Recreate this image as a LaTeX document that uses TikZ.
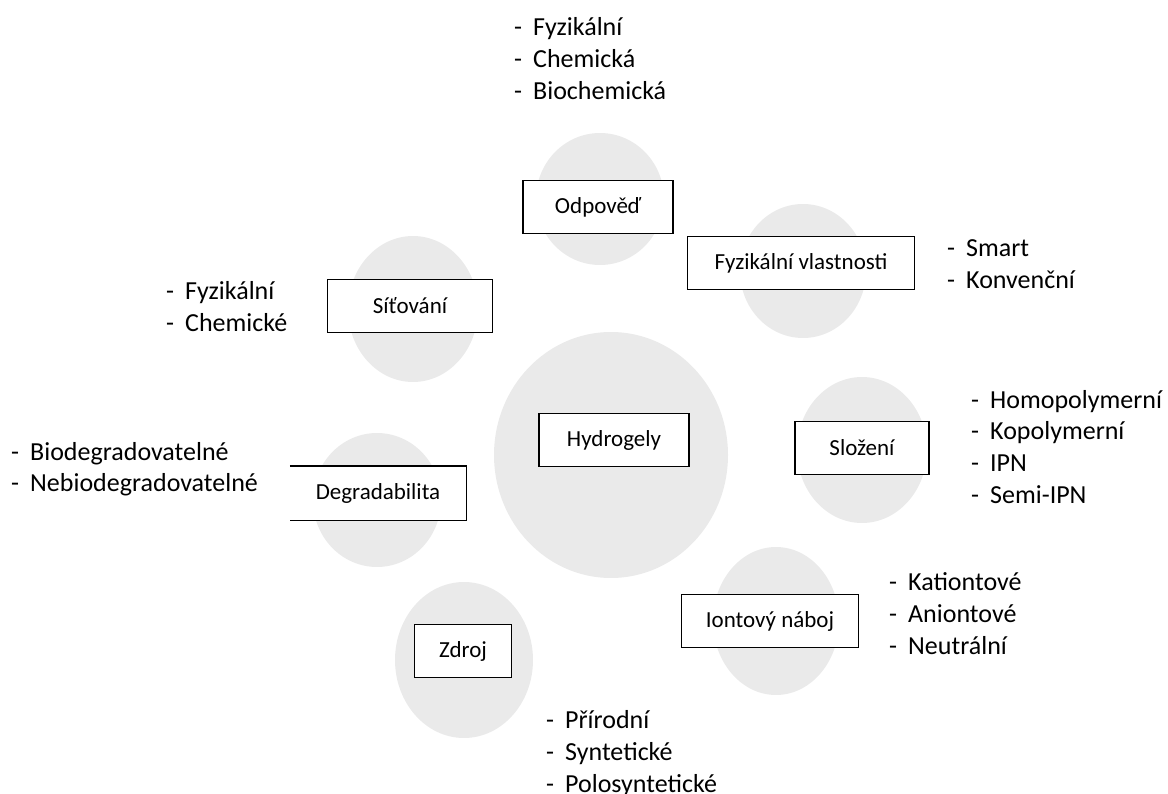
\documentclass[tikz,border=0pt]{standalone}
\usepackage{fontspec}
\setmainfont{Carlito}
\usepackage{array}
\definecolor{kruhseda}{RGB}{234,234,234}
\newcommand{\seznamtab}[1]{\begin{tabular}[t]{@{}p{19pt}@{}l@{}}#1\end{tabular}}

\begin{document}
\begin{tikzpicture}
[x=1pt,y=-1pt,
kruh/.style = {fill = kruhseda},
pojem/.style = {draw, line width = 1.2pt, fill = white, font = \fontsize{23}{27}\selectfont, minimum height = 53pt, inner sep = 0pt},
seznam/.style = {anchor = base west, inner sep = 0pt, font = \fontsize{26}{32}\selectfont},]

\useasboundingbox (0,0) rectangle (1168,794);

% sede kruhy
\fill [kruh] (611,455) ellipse (117 and 123);
\fill [kruh] (600,199) ellipse (64 and 66);
\fill [kruh] (803,271) ellipse (63 and 67);
\fill [kruh] (413,309) ellipse (65 and 73);
\fill [kruh] (377,500) ellipse (64 and 67);
\fill [kruh] (862,450) ellipse (65 and 73);
\fill [kruh] (776,621) ellipse (63 and 74);
\fill [kruh] (464,660) ellipse (69 and 78);

% pojmy
\node (hydrogely) at (614,440)[pojem, minimum width = 150pt] {Hydrogely};
\node (odpoved) at (598,207)[pojem, minimum width = 150pt] {Odpověď};
\node (fyzvl) at (801,263)[pojem, minimum width = 227pt] {Fyzikální vlastnosti};
\node (sitovani) at (410,306)[pojem, minimum width = 165pt] {Síťování};
\node (degrad) at (378,493)[pojem, draw = none, minimum width = 175pt] {Degradabilita};
\draw [line width = 1.2pt] (degrad.north west)--(degrad.north east)--(degrad.south east)--(degrad.south west);
\node (slozeni) at (862,448)[pojem, minimum width = 134pt] {Složení};
\node (naboj) at (770,621)[pojem, minimum width = 177pt] {Iontový náboj};
\node (zdroj) at (463,651)[pojem, minimum width = 97pt] {Zdroj};

% seznamy
\node (odpovedS) at (514,36)[seznam] {\seznamtab{- & Fyzikální\\- & Chemická\\- & Biochemická}};
\node (fyzvlS) at (947,257)[seznam] {\seznamtab{- & Smart\\- & Konvenční}};
\node (sitovaniS) at (166,300)[seznam] {\seznamtab{- & Fyzikální\\- & Chemické}};
\node (degradS) at (11,460)[seznam] {\seznamtab{- & Biodegradovatelné\\- & Nebiodegradovatelné}};
\node (slozeniS) at (971,408)[seznam] {\seznamtab{- & Homopolymerní\\- & Kopolymerní\\- & IPN\\- & Semi-IPN}};
\node (nabojS) at (889,590)[seznam] {\seznamtab{- & Kationtové\\- & Aniontové\\- & Neutrální}};
\node (zdrojS) at (546,728)[seznam] {\seznamtab{- & Přírodní\\- & Syntetické\\- & Polosyntetické}};

\end{tikzpicture}
\end{document}
